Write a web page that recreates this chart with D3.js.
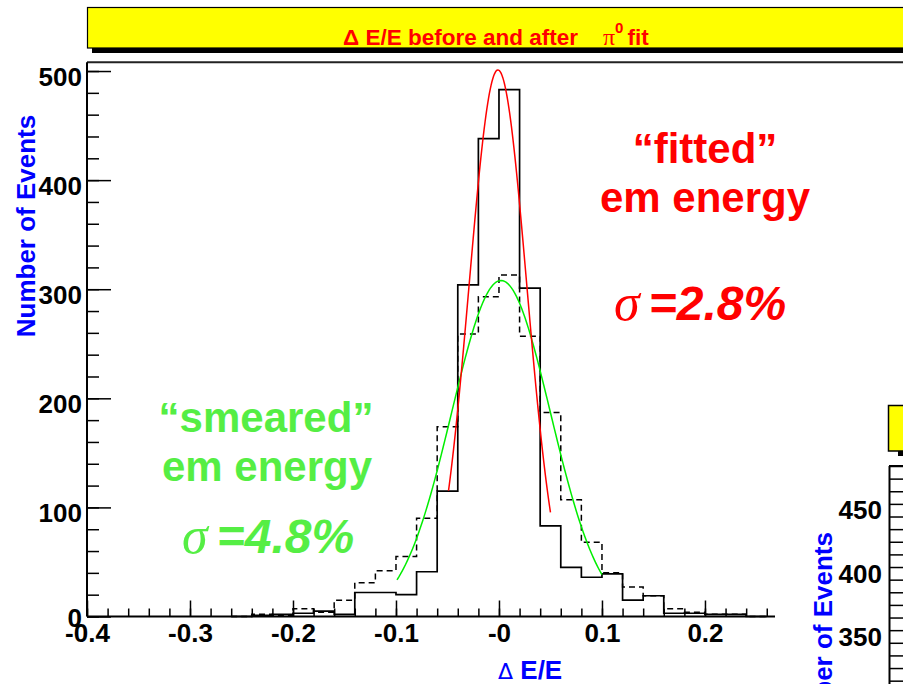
<!DOCTYPE html>
<html>
<head>
<meta charset="utf-8">
<script src="https://cdn.jsdelivr.net/npm/d3@7"></script>
<style>
  html, body { margin: 0; padding: 0; background: #fff; }
  svg { display: block; }
  text { font-family: "Liberation Sans", Arial, sans-serif; font-weight: bold; }
</style>
</head>
<body>
<svg id="chart" width="903" height="684"></svg>
<script>
// Histogram bins: lower edges, bin width 0.02 in ΔE/E
const binLow = [-0.26, -0.24, -0.22, -0.20, -0.18, -0.16, -0.14, -0.12, -0.10, -0.08,
                -0.06, -0.04, -0.02, 0.00, 0.02, 0.04, 0.06, 0.08, 0.10, 0.12,
                0.14, 0.16, 0.18, 0.20, 0.22, 0.24];
const binWidth = 0.02;

// Energy resolution after the π0 mass-constrained fit (solid)
const fittedCounts = [0, 1, 2, 3, 5, 2, 22, 22, 20, 41,
                      115, 304, 438, 483, 301, 83, 45, 36, 39, 15,
                      19, 3, 3, 2, 2, 0];

// Smeared energy before the fit (dashed)
const smearedCounts = [0, 2, 1, 7, 4, 15, 31, 42, 55, 90,
                       174, 259, 293, 313, 257, 187, 107, 68, 40, 27,
                       19, 7, 4, 2, 2, 0];

// Gaussian fit parameters: [amplitude, mean, sigma, fit range low, fit range high]
const fittedGaus  = [501, -0.001, 0.028, -0.049, 0.050];
const smearedGaus = [308,  0.002, 0.048, -0.099, 0.100];

// Axis ticks
const xMajor = [-0.4, -0.3, -0.2, -0.1, 0, 0.1, 0.2];
const xMajorLabels = ["-0.4", "-0.3", "-0.2", "-0.1", "-0", "0.1", "0.2"];
const yMajor = [0, 100, 200, 300, 400, 500];
const yMajorLabels = ["0", "100", "200", "300", "400", "500"];
const rightMajor = [450, 400, 350];
const rightMajorLabels = ["450", "400", "350"];

const svg = d3.select("#chart");

// ---- title box ----
svg.append("rect").attr("x", 92).attr("y", 47).attr("width", 820).attr("height", 6).attr("fill", "#000");
svg.append("rect").attr("x", 87.5).attr("y", 7.5).attr("width", 830).attr("height", 40.5)
  .attr("fill", "#ffff00").attr("stroke", "#000").attr("stroke-width", 1.2);
const title = svg.append("text").attr("x", 343).attr("y", 45).attr("fill", "#ff0000")
  .style("font-size", "22.5px");
title.append("tspan").text("Δ E/E before and after");
title.append("tspan").attr("dx", 25).style("font-family", "'Liberation Serif', serif")
  .style("font-weight", "normal").style("font-size", "24px").text("π");
title.append("tspan").attr("dy", -12).style("font-size", "15px").text("0");
title.append("tspan").attr("dy", 12).attr("dx", 4).text("fit");

// ---- main frame ----
const x = d3.scaleLinear().domain([-0.4, 0.268]).range([87, 775]);
const y = d3.scaleLinear().domain([0, 508]).range([616.5, 62.3]);

svg.append("line").attr("x1", 87).attr("x2", 903).attr("y1", 62.3).attr("y2", 62.3)
  .attr("stroke", "#222").attr("stroke-width", 2);

// histograms
function stepPoints(counts) {
  const pts = [[binLow[0], 0]];
  binLow.forEach((lo, i) => pts.push([lo, counts[i]]));
  const hi = binLow[binLow.length - 1] + binWidth;
  pts.push([hi, counts[counts.length - 1]]);
  pts.push([hi, 0]);
  return pts;
}
const stepLine = d3.line().x(d => x(d[0])).y(d => y(d[1])).curve(d3.curveStepAfter);

svg.append("path").attr("d", stepLine(stepPoints(smearedCounts)))
  .attr("fill", "none").attr("stroke", "#000").attr("stroke-width", 1.5)
  .attr("stroke-dasharray", "6,4");
svg.append("path").attr("d", stepLine(stepPoints(fittedCounts)))
  .attr("fill", "none").attr("stroke", "#000").attr("stroke-width", 1.7);

// gaussian fit curves
function gausPath(p) {
  const [amp, mu, sig, lo, hi] = p;
  const n = 120;
  const pts = d3.range(n + 1).map(i => {
    const xv = lo + (hi - lo) * i / n;
    return [xv, amp * Math.exp(-0.5 * ((xv - mu) / sig) ** 2)];
  });
  return d3.line().x(d => x(d[0])).y(d => y(d[1]))(pts);
}
svg.append("path").attr("d", gausPath(smearedGaus))
  .attr("fill", "none").attr("stroke", "#00ee00").attr("stroke-width", 1.5);
svg.append("path").attr("d", gausPath(fittedGaus))
  .attr("fill", "none").attr("stroke", "#ff0000").attr("stroke-width", 1.5);

// x axis
const xMinor = d3.range(0, 34).map(i => Math.round((-0.4 + i * 0.02) * 100) / 100);
svg.append("g").attr("transform", "translate(0,616.5)")
  .call(d3.axisBottom(x).tickValues(xMinor).tickSizeInner(-8).tickSizeOuter(0).tickFormat(""))
  .call(g => g.select(".domain").remove())
  .call(g => g.selectAll("line").attr("stroke", "#000").attr("stroke-width", 1.5));
const xAxisG = svg.append("g").attr("transform", "translate(0,616.5)")
  .call(d3.axisBottom(x).tickValues(xMajor).tickSizeInner(-16).tickSizeOuter(0).tickPadding(7)
    .tickFormat((d, i) => xMajorLabels[i]));
xAxisG.select(".domain").attr("stroke", "#000").attr("stroke-width", 2).attr("d", "M87,0H775");
xAxisG.selectAll("line").attr("stroke", "#000").attr("stroke-width", 1.5);
xAxisG.selectAll("text").attr("fill", "#000").style("font-size", "26px")
  .style("font-family", "'Liberation Sans', Arial, sans-serif").style("font-weight", "bold");

// y axis
const yMinor = d3.range(0, 26).map(i => i * 20);
svg.append("g").attr("transform", "translate(87,0)")
  .call(d3.axisLeft(y).tickValues(yMinor).tickSizeInner(-12).tickSizeOuter(0).tickFormat(""))
  .call(g => g.select(".domain").remove())
  .call(g => g.selectAll("line").attr("stroke", "#000").attr("stroke-width", 1.5));
const yAxisG = svg.append("g").attr("transform", "translate(87,0)")
  .call(d3.axisLeft(y).tickValues(yMajor).tickSizeInner(-24).tickSizeOuter(0).tickPadding(5)
    .tickFormat((d, i) => yMajorLabels[i]));
yAxisG.select(".domain").attr("stroke", "#000").attr("stroke-width", 2).attr("d", "M0,616.5V62.3");
yAxisG.selectAll("line").attr("stroke", "#000").attr("stroke-width", 1.5);
yAxisG.selectAll("text").attr("fill", "#000").attr("dy", "0.54em").style("font-size", "26px")
  .style("font-family", "'Liberation Sans', Arial, sans-serif").style("font-weight", "bold");
yAxisG.selectAll("text").filter(d => d === 0).attr("dy", "0.38em");

// axis titles
svg.append("text").attr("transform", "translate(35,226) rotate(-90)").attr("text-anchor", "middle")
  .attr("fill", "#0000ff").style("font-size", "26px").text("Number of Events");
const xt = svg.append("text").attr("x", 498).attr("y", 679).attr("fill", "#0000ff").style("font-size", "26px");
xt.append("tspan").style("font-family", "'DejaVu Sans', sans-serif").style("font-weight", "normal")
  .style("font-size", "22px").text("Δ");
xt.append("tspan").text(" E/E");

// annotations
const red = "#ff0000", green = "#55ee44";
svg.append("text").attr("x", 705).attr("y", 163).attr("text-anchor", "middle").attr("fill", red)
  .style("font-size", "42px").text("“fitted”");
svg.append("text").attr("x", 705).attr("y", 212).attr("text-anchor", "middle").attr("fill", red)
  .style("font-size", "42px").text("em energy");
function sigmaLabel(xp, yp, color, value) {
  const t = svg.append("text").attr("x", xp).attr("y", yp).attr("fill", color).style("font-size", "48px");
  t.append("tspan").style("font-family", "'Liberation Serif', serif").style("font-style", "italic")
    .style("font-weight", "normal").style("font-size", "52px").text("σ");
  t.append("tspan").attr("dx", 9).style("font-style", "italic").text("=" + value + "%");
}
sigmaLabel(614, 320, red, "2.8");

svg.append("text").attr("x", 266).attr("y", 432).attr("text-anchor", "middle").attr("fill", green)
  .style("font-size", "42px").text("“smeared”");
svg.append("text").attr("x", 267).attr("y", 481).attr("text-anchor", "middle").attr("fill", green)
  .style("font-size", "42px").text("em energy");
sigmaLabel(182, 553, green, "4.8");

// ---- neighbouring panel (partly visible on the right) ----
svg.append("rect").attr("x", 898).attr("y", 450).attr("width", 20).attr("height", 6).attr("fill", "#000");
svg.append("rect").attr("x", 888.5).attr("y", 405.5).attr("width", 30).attr("height", 45.5)
  .attr("fill", "#ffff00").attr("stroke", "#000").attr("stroke-width", 1.5);

const y2 = d3.scaleLinear().domain([300, 480]).range([693.3, 466]);
const y2Ticks = d3.range(31, 49).map(i => i * 10);
const y2Axis = svg.append("g").attr("transform", "translate(889.5,0)")
  .call(d3.axisLeft(y2).tickValues(y2Ticks).tickSizeInner(-14).tickSizeOuter(0).tickFormat(""));
y2Axis.select(".domain").attr("stroke", "#000").attr("stroke-width", 2).attr("d", "M0,684V466");
y2Axis.selectAll("line").attr("stroke", "#000").attr("stroke-width", 1.5);
svg.append("line").attr("x1", 889).attr("x2", 903).attr("y1", 466).attr("y2", 466)
  .attr("stroke", "#000").attr("stroke-width", 2);
svg.append("g").selectAll("text").data(rightMajor).join("text")
  .attr("x", 882).attr("y", d => y2(d)).attr("dy", "0.6em").attr("text-anchor", "end")
  .attr("fill", "#000").style("font-size", "26px").text((d, i) => rightMajorLabels[i]);
svg.append("text").attr("transform", "translate(832,532) rotate(-90)").attr("text-anchor", "end")
  .attr("fill", "#0000ff").style("font-size", "26px").text("Number of Events");
</script>
</body>
</html>
